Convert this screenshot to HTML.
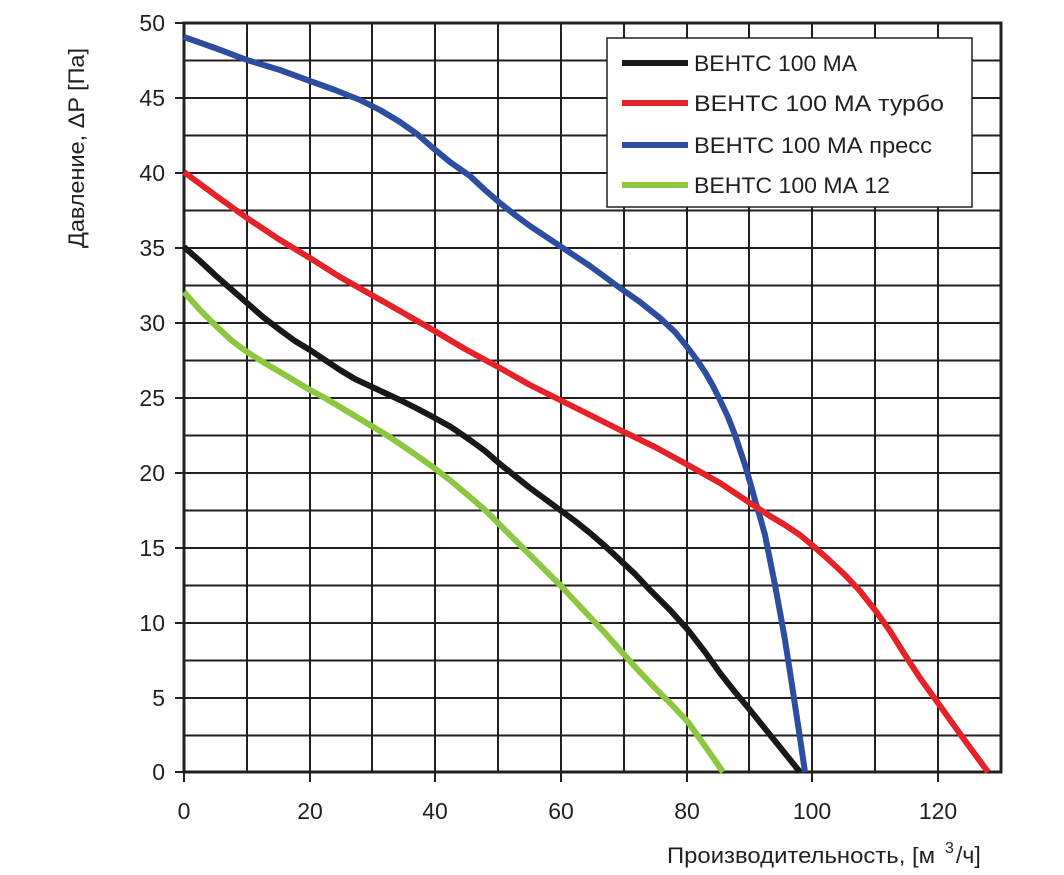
<!DOCTYPE html>
<html><head><meta charset="utf-8"><style>
html,body{margin:0;padding:0;background:#fff;}
svg text{font-family:"Liberation Sans","DejaVu Sans",sans-serif;fill:#231f20;}
</style></head><body>
<svg width="1064" height="870" xmlns="http://www.w3.org/2000/svg">
<g stroke="#231f20" stroke-width="2">
<line x1="247" y1="23" x2="247" y2="772"/><line x1="310" y1="23" x2="310" y2="772"/>
<line x1="372" y1="23" x2="372" y2="772"/><line x1="435" y1="23" x2="435" y2="772"/>
<line x1="498" y1="23" x2="498" y2="772"/><line x1="561" y1="23" x2="561" y2="772"/>
<line x1="624" y1="23" x2="624" y2="772"/><line x1="687" y1="23" x2="687" y2="772"/>
<line x1="749" y1="23" x2="749" y2="772"/><line x1="812" y1="23" x2="812" y2="772"/>
<line x1="875" y1="23" x2="875" y2="772"/><line x1="938" y1="23" x2="938" y2="772"/>
<line x1="184" y1="60.5" x2="1001" y2="60.5"/><line x1="184" y1="98" x2="1001" y2="98"/>
<line x1="184" y1="135.5" x2="1001" y2="135.5"/><line x1="184" y1="173" x2="1001" y2="173"/>
<line x1="184" y1="210.5" x2="1001" y2="210.5"/><line x1="184" y1="248" x2="1001" y2="248"/>
<line x1="184" y1="285.5" x2="1001" y2="285.5"/><line x1="184" y1="323" x2="1001" y2="323"/>
<line x1="184" y1="360.5" x2="1001" y2="360.5"/><line x1="184" y1="398" x2="1001" y2="398"/>
<line x1="184" y1="435.5" x2="1001" y2="435.5"/><line x1="184" y1="473" x2="1001" y2="473"/>
<line x1="184" y1="510.5" x2="1001" y2="510.5"/><line x1="184" y1="548" x2="1001" y2="548"/>
<line x1="184" y1="585.5" x2="1001" y2="585.5"/><line x1="184" y1="623" x2="1001" y2="623"/>
<line x1="184" y1="660.5" x2="1001" y2="660.5"/><line x1="184" y1="698" x2="1001" y2="698"/>
<line x1="184" y1="735.5" x2="1001" y2="735.5"/>
<line x1="175" y1="23" x2="184" y2="23"/><line x1="175" y1="98" x2="184" y2="98"/>
<line x1="175" y1="173" x2="184" y2="173"/><line x1="175" y1="248" x2="184" y2="248"/>
<line x1="175" y1="323" x2="184" y2="323"/><line x1="175" y1="398" x2="184" y2="398"/>
<line x1="175" y1="473" x2="184" y2="473"/><line x1="175" y1="548" x2="184" y2="548"/>
<line x1="175" y1="623" x2="184" y2="623"/><line x1="175" y1="698" x2="184" y2="698"/>
<line x1="175" y1="772" x2="184" y2="772"/>
<line x1="184" y1="772" x2="184" y2="782"/><line x1="310" y1="772" x2="310" y2="782"/>
<line x1="435" y1="772" x2="435" y2="782"/><line x1="561" y1="772" x2="561" y2="782"/>
<line x1="687" y1="772" x2="687" y2="782"/><line x1="812" y1="772" x2="812" y2="782"/>
<line x1="938" y1="772" x2="938" y2="782"/>
</g>
<rect x="184" y="23" width="817" height="749" fill="none" stroke="#231f20" stroke-width="3"/>
<g fill="none" stroke-width="6" stroke-linejoin="round" stroke-linecap="butt">
<polyline stroke="#2c4da0" points="184,37 215,48 247,60 280,70 310,81 335,90 360,100 380,110 400,122 417,134 433,148 450,162 470,176 485,190 500,203 515,215 530,226 545,236 560,246 575,256 590,266 605,277 620,288 640,302 660,318 675,332 688,348 697,360 705,372 713,386 720,400 728,417 735,435 740,450 745,465 750,482 755,500 760,517 765,535 770,560 775,585 780,612 785,640 790,672 795,705 800,738 805,772"/>
<polyline stroke="#e42227" points="184,172 215,195 247,218 280,240 310,258 340,277 370,294 400,311 433,330 465,349 500,368 530,385 560,400 590,415 620,430 655,447 688,465 720,483 750,503 770,516 785,525 800,535 812,545 828,559 845,575 860,591 875,610 890,631 905,655 920,678 938,703 963,738 988,772"/>
<polyline stroke="#1a1718" points="184,247 200,261 215,275 231,289 247,303 263,317 280,330 295,341 310,350 325,360 340,370 355,379 370,386 385,393 400,400 416,408 433,417 451,427 470,440 485,451 500,464 515,476 530,488 545,499 560,510 575,521 590,533 605,546 620,560 635,574 650,590 670,610 688,630 705,652 720,673 735,692 750,710 775,741 800,772"/>
<polyline stroke="#8dc63f" points="184,292 200,310 215,325 231,340 247,352 263,362 280,372 295,381 310,390 325,398 340,407 355,416 370,425 385,434 400,444 416,455 433,467 451,481 470,497 485,510 500,525 515,540 530,555 545,570 560,585 575,601 590,617 605,633 620,650 637,669 655,688 672,705 688,722 705,746 723,772"/>
</g>
<g font-size="23" text-anchor="end">
<text x="165" y="31">50</text><text x="165" y="106">45</text><text x="165" y="181">40</text>
<text x="165" y="256">35</text><text x="165" y="331">30</text><text x="165" y="406">25</text>
<text x="165" y="481">20</text><text x="165" y="556">15</text><text x="165" y="631">10</text>
<text x="165" y="706">5</text><text x="165" y="780">0</text>
</g>
<g font-size="23" text-anchor="middle">
<text x="184" y="819">0</text><text x="310" y="819">20</text><text x="435" y="819">40</text>
<text x="561" y="819">60</text><text x="687" y="819">80</text><text x="812" y="819">100</text>
<text x="938" y="819">120</text>
</g>
<text x="667" y="863" font-size="22" textLength="268" lengthAdjust="spacingAndGlyphs">Производительность, [м</text>
<text x="945" y="853" font-size="16">3</text>
<text x="956" y="863" font-size="23">/ч]</text>
<text transform="translate(84,148) rotate(-90)" font-size="22" text-anchor="middle" textLength="200" lengthAdjust="spacingAndGlyphs">Давление, ΔP [Па]</text>
<rect x="607" y="38" width="365" height="169" fill="#fff" stroke="#231f20" stroke-width="1.5"/>
<g stroke-width="6">
<line x1="622" y1="63" x2="688" y2="63" stroke="#1a1718"/>
<line x1="622" y1="103" x2="688" y2="103" stroke="#e42227"/>
<line x1="622" y1="145" x2="688" y2="145" stroke="#2c4da0"/>
<line x1="622" y1="185" x2="688" y2="185" stroke="#8dc63f"/>
</g>
<g font-size="22">
<text x="694" y="71" textLength="163" lengthAdjust="spacingAndGlyphs">ВЕНТС 100 МА</text>
<text x="694" y="111" textLength="250" lengthAdjust="spacingAndGlyphs">ВЕНТС 100 МА турбо</text>
<text x="694" y="153" textLength="238" lengthAdjust="spacingAndGlyphs">ВЕНТС 100 МА пресс</text>
<text x="694" y="193" textLength="196" lengthAdjust="spacingAndGlyphs">ВЕНТС 100 МА 12</text>
</g>
</svg>
</body></html>
